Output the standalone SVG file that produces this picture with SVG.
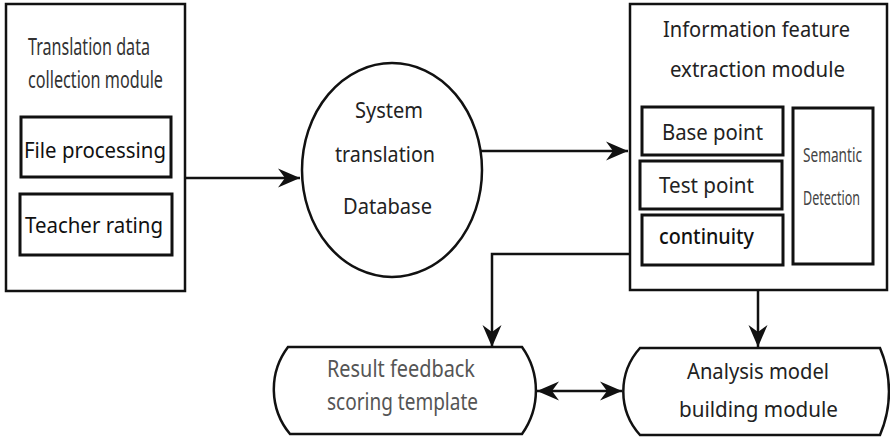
<svg xmlns="http://www.w3.org/2000/svg" width="890" height="438" viewBox="0 0 890 438">
<defs>
<marker id="ah" viewBox="0 0 22 22" refX="22" refY="11" markerWidth="22" markerHeight="22" markerUnits="userSpaceOnUse" orient="auto-start-reverse">
<path d="M0,1.5 L22,11 L0,20.5 L7,11 Z" fill="#111"/>
</marker>
<style>
.box{fill:#fff;stroke:#111;stroke-width:2.5}
.inner{fill:#fff;stroke:#111;stroke-width:3}
.t{font-family:"Noto Sans","Liberation Sans",sans-serif;font-size:21px;fill:#222}
.cond{font-size:23px;fill:#333}
.conn{fill:none;stroke:#111;stroke-width:2.5}
</style>
</defs>
<rect width="890" height="438" fill="#fff"/>
<g id="collection">
<rect class="box" x="6" y="4" width="179" height="287"/>
<text class="t cond" x="28" y="55" textLength="122" lengthAdjust="spacingAndGlyphs">Translation data</text>
<text class="t cond" x="28" y="88" textLength="135" lengthAdjust="spacingAndGlyphs">collection module</text>
</g>
<g id="file-processing">
<rect class="inner" x="21" y="117" width="150" height="60"/>
<text class="t" x="24" y="158" textLength="142" lengthAdjust="spacingAndGlyphs" style="fill:#111">File processing</text>
</g>
<g id="teacher-rating">
<rect class="inner" x="20" y="194" width="152" height="61"/>
<text class="t" x="25" y="233" textLength="138" lengthAdjust="spacingAndGlyphs" style="fill:#111">Teacher rating</text>
</g>
<g id="database">
<ellipse class="box" cx="392" cy="170" rx="90" ry="107"/>
<text class="t" x="355" y="118" textLength="68" lengthAdjust="spacingAndGlyphs">System</text>
<text class="t" x="335" y="162" textLength="100" lengthAdjust="spacingAndGlyphs">translation</text>
<text class="t" x="343" y="214" textLength="89" lengthAdjust="spacingAndGlyphs">Database</text>
</g>
<g id="extraction">
<rect class="box" x="630" y="4" width="257" height="286"/>
<text class="t" x="663" y="37" textLength="187" lengthAdjust="spacingAndGlyphs">Information feature</text>
<text class="t" x="670" y="77" textLength="175" lengthAdjust="spacingAndGlyphs">extraction module</text>
</g>
<g id="base-point">
<rect class="inner" x="642" y="107" width="141" height="48"/>
<text class="t" x="662" y="140" textLength="101" lengthAdjust="spacingAndGlyphs">Base point</text>
</g>
<g id="test-point">
<rect class="inner" x="640" y="161" width="142" height="48"/>
<text class="t" x="659" y="193" textLength="95" lengthAdjust="spacingAndGlyphs">Test point</text>
</g>
<g id="continuity">
<rect class="inner" x="642" y="215" width="141" height="50"/>
<text class="t" x="659" y="244" textLength="95" lengthAdjust="spacingAndGlyphs" style="font-weight:500;fill:#111">continuity</text>
</g>
<g id="semantic">
<rect class="inner" x="793" y="108" width="80" height="156"/>
<text class="t" x="803" y="162" textLength="59" lengthAdjust="spacingAndGlyphs" style="font-size:19px;fill:#444">Semantic</text>
<text class="t" x="803" y="205" textLength="57" lengthAdjust="spacingAndGlyphs" style="font-size:19px;fill:#444">Detection</text>
</g>
<g id="result">
<path class="box" d="M288 347 L522 347 A75 75 0 0 1 522 434 L290 434 A70 70 0 0 1 288 347 Z"/>
<text class="t cond" x="327" y="377" textLength="148" lengthAdjust="spacingAndGlyphs" style="fill:#555">Result feedback</text>
<text class="t cond" x="327" y="410" textLength="151" lengthAdjust="spacingAndGlyphs" style="fill:#555">scoring template</text>
</g>
<g id="analysis">
<path class="box" d="M640 348 L880 348 A110 110 0 0 1 880 435 L640 435 A65 65 0 0 1 640 348 Z"/>
<text class="t" x="687" y="379" textLength="142" lengthAdjust="spacingAndGlyphs">Analysis model</text>
<text class="t" x="679" y="417" textLength="159" lengthAdjust="spacingAndGlyphs">building module</text>
</g>
<g id="connectors">
<path class="conn" d="M185 178 H300" marker-end="url(#ah)"/>
<path class="conn" d="M481 151 H628" marker-end="url(#ah)"/>
<path class="conn" d="M630 254 H492 V347" marker-end="url(#ah)"/>
<path class="conn" d="M758 290 V347" marker-end="url(#ah)"/>
<path class="conn" d="M537 391 H622" marker-start="url(#ah)" marker-end="url(#ah)"/>
</g>
</svg>
